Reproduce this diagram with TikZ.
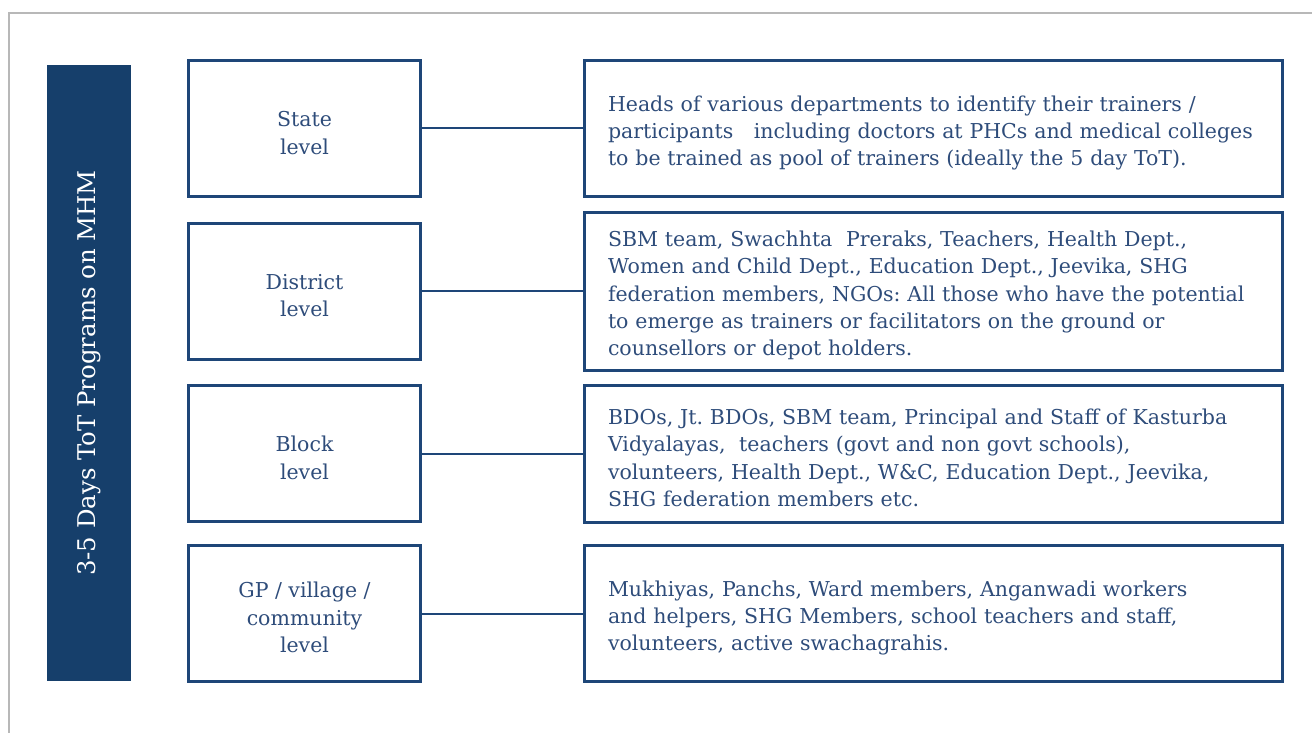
\documentclass[tikz,border=0pt]{standalone}
\usepackage{fontspec}
\setmainfont{DejaVu Serif}
\usetikzlibrary{positioning}
\definecolor{barblue}{RGB}{22,63,107}
\definecolor{boxblue}{RGB}{30,70,120}
\definecolor{txtblue}{RGB}{46,76,122}
\frenchspacing

\begin{document}
\begin{tikzpicture}[x=1pt,y=-1pt,font=\fontsize{20.5}{27.4}\selectfont,
  lvl/.style={draw=boxblue,line width=3pt,minimum width=232pt,minimum height=136pt,
    align=center,text=txtblue},
  who/.style={draw=boxblue,line width=3pt,minimum width=698pt,text width=651pt,
    inner xsep=23.5pt,align=left,text=txtblue,execute at begin node=\rule{0pt}{24.5pt}},
  link/.style={draw=boxblue,line width=2pt}]
\useasboundingbox (0,0) rectangle (1312,733);
%%frame
\draw[black!28,line width=1.5pt](1312,13)--(9,13)--(9,733);
%%side bar
\node[fill=barblue,text=white,rotate=90,minimum width=616pt,minimum height=84pt,
  inner sep=0pt,font=\fontsize{24.4}{28}\selectfont](bar)at(89,373){3-5 Days ToT Programs on MHM};
%%levels
\foreach \n/\y/\t in {1/128.5/{State\\level},2/291/{District\\level},
  3/453.5/{Block\\level},4/613.5/{GP / village /\\community\\level}}
\node[lvl](L\n)at(304.5,\y){\rule{0pt}{24pt}\t};
%%participants
\node[who,minimum height=136pt,right=161pt of L1](R1){Heads of various departments to identify their trainers /\\
participants\ \ \ including doctors at PHCs and medical colleges\\
to be trained as pool of trainers (ideally the 5 day ToT).};
\node[who,minimum height=158pt,right=161pt of L2](R2){SBM team, Swachhta\ \ Preraks, Teachers, Health Dept.,\\
Women and Child Dept., Education Dept., Jeevika, SHG\\
federation members, NGOs: All those who have the potential\\
to emerge as trainers or facilitators on the ground or\\
counsellors or depot holders.};
\node[who,minimum height=137pt,right=161pt of L3](R3){BDOs, Jt. BDOs, SBM team, Principal and Staff of Kasturba\\
Vidyalayas,\ \ teachers (govt and non govt schools),\\
volunteers, Health Dept., W\&C, Education Dept., Jeevika,\\
SHG federation members etc.};
\node[who,minimum height=136pt,right=161pt of L4](R4){Mukhiyas, Panchs, Ward members, Anganwadi workers\\
and helpers, SHG Members, school teachers and staff,\\
volunteers, active swachagrahis.};
%%links
\foreach \n in {1,...,4}
\draw[link](L\n)--(R\n);
\end{tikzpicture}
\end{document}
